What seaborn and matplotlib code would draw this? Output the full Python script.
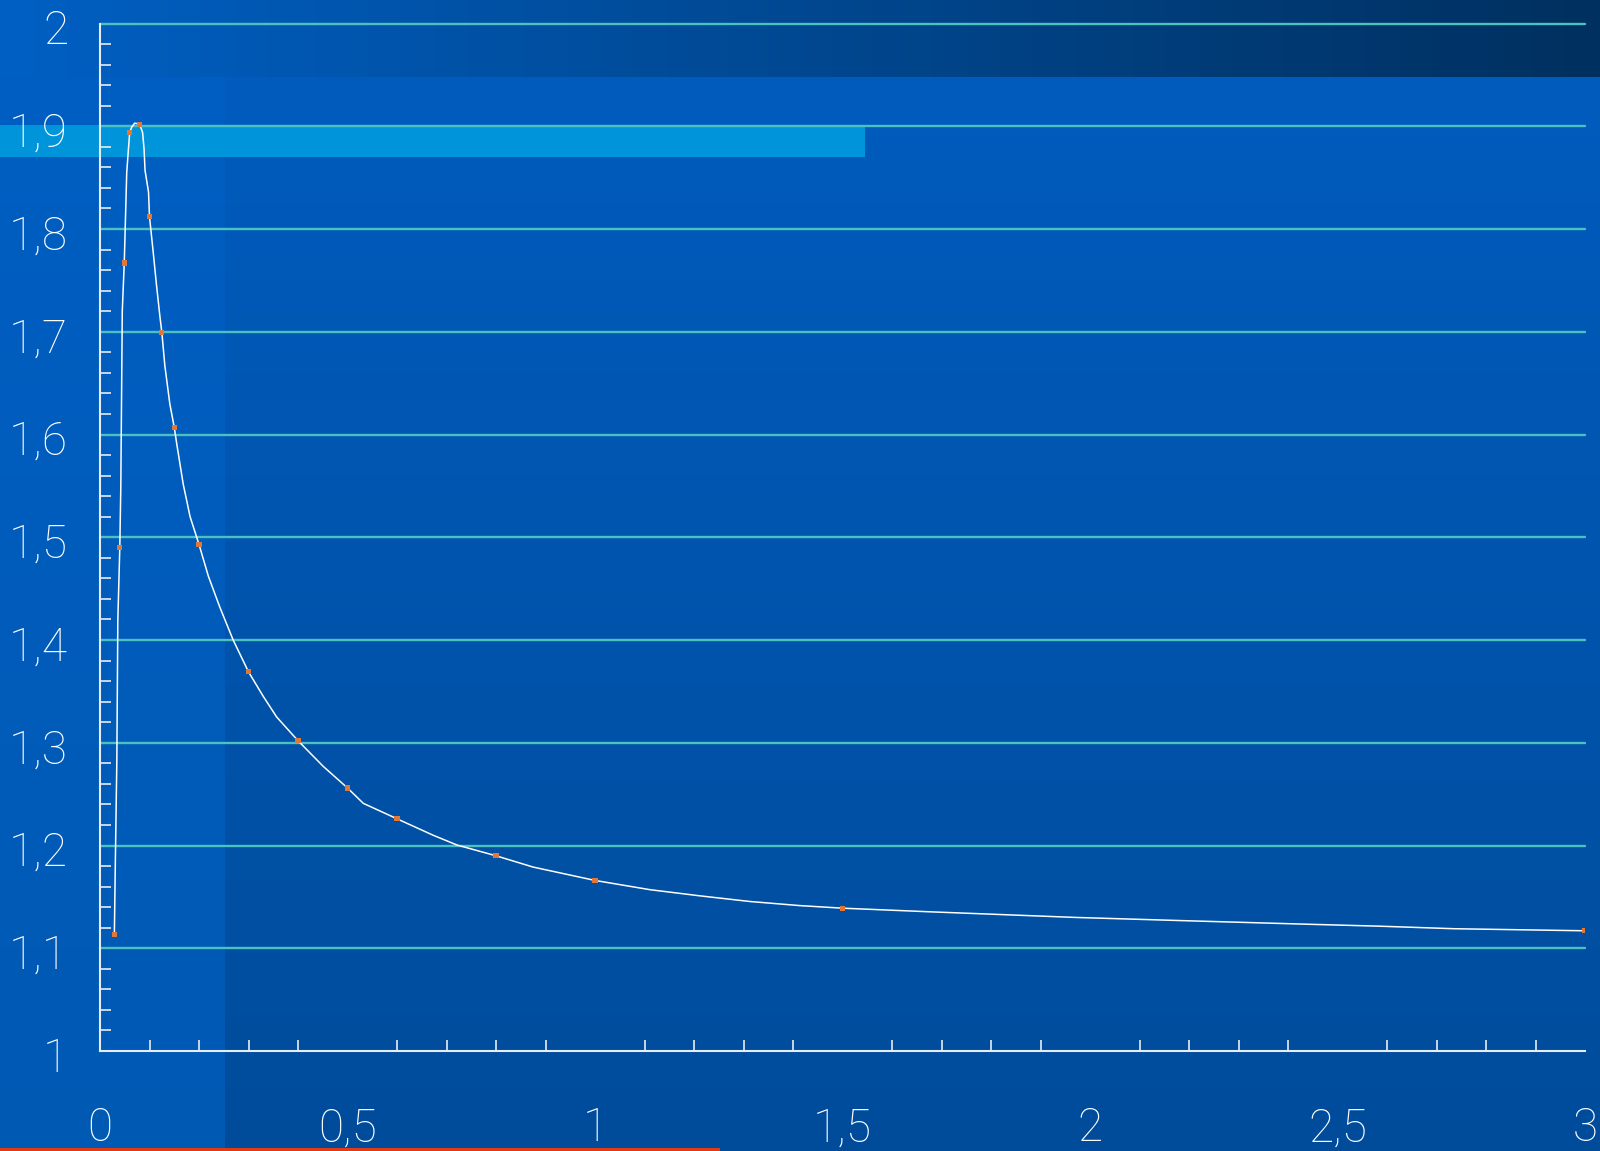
import numpy as np
import matplotlib
matplotlib.use("Agg")
import matplotlib.pyplot as plt
import matplotlib.transforms as mtransforms
from matplotlib.ticker import FixedLocator, MultipleLocator, FuncFormatter
import seaborn as sns

# Curve traced as a smooth line
x_line = [0.029, 0.031, 0.034, 0.036, 0.040, 0.042, 0.045, 0.049, 0.051, 0.054,
          0.057, 0.060, 0.064, 0.070, 0.080, 0.086, 0.089, 0.091, 0.098, 0.100,
          0.108, 0.114, 0.121, 0.125, 0.131, 0.141, 0.150, 0.155, 0.168, 0.182,
          0.200, 0.219, 0.242, 0.269, 0.300, 0.330, 0.357, 0.400, 0.451, 0.500,
          0.532, 0.600, 0.673, 0.721, 0.800, 0.875, 1.000, 1.111, 1.212, 1.313,
          1.414, 1.500, 1.675, 1.970, 2.178, 2.430, 2.583, 2.736, 2.933, 3.000]
y_line = [1.113, 1.184, 1.282, 1.419, 1.490, 1.548, 1.720, 1.767, 1.802, 1.855,
          1.875, 1.894, 1.899, 1.903, 1.902, 1.894, 1.878, 1.857, 1.836, 1.812,
          1.775, 1.746, 1.715, 1.699, 1.667, 1.630, 1.607, 1.591, 1.552, 1.520,
          1.493, 1.462, 1.432, 1.400, 1.369, 1.345, 1.325, 1.302, 1.277, 1.256,
          1.241, 1.226, 1.210, 1.2005, 1.190, 1.179, 1.166, 1.157, 1.151, 1.1455,
          1.1415, 1.139, 1.1355, 1.130, 1.127, 1.1235, 1.1215, 1.119, 1.1175, 1.117]

# Measured points
x_pts = [0.029, 0.040, 0.049, 0.060, 0.080, 0.100, 0.125, 0.150, 0.200,
         0.300, 0.400, 0.500, 0.600, 0.800, 1.000, 1.500, 3.000]
y_pts = [1.113, 1.490, 1.767, 1.894, 1.902, 1.812, 1.699, 1.607, 1.493,
         1.369, 1.302, 1.256, 1.226, 1.190, 1.166, 1.139, 1.117]

y_ticks = [1.0, 1.1, 1.2, 1.3, 1.4, 1.5, 1.6, 1.7, 1.8, 1.9, 2.0]
x_ticks = [0, 0.5, 1.0, 1.5, 2.0, 2.5, 3.0]

W, H = 1600, 1151
DPI = 100

sns.set_theme(style="white")
plt.rcParams["font.family"] = ["Roboto", "DejaVu Sans"]

fig = plt.figure(figsize=(W / DPI, H / DPI), dpi=DPI)


def hex_rgb(h):
    h = h.lstrip("#")
    return np.array([int(h[i:i + 2], 16) for i in (0, 2, 4)], dtype=float) / 255.0


# Slide-style background: blue gradients, a light band and a red rule
img = np.zeros((H, W, 3))
band_h = 77
strip_w = 225
t = np.linspace(0, 1, H)[:, None]
main_top, main_bot = hex_rgb("#005dc0"), hex_rgb("#004c9b")
img[:] = np.repeat((main_top * (1 - t) + main_bot * t)[:, None, :], W, axis=1)
strip_top, strip_bot = hex_rgb("#005fc4"), hex_rgb("#0059b3")
img[:, :strip_w] = np.repeat((strip_top * (1 - t) + strip_bot * t)[:, None, :], strip_w, axis=1)
s = np.linspace(0, 1, W)[None, :, None]
top_l, top_r = hex_rgb("#0060c4"), hex_rgb("#00305f")
img[:band_h] = np.repeat(top_l * (1 - s) + top_r * s, band_h, axis=0)
img[125:157, :865] = hex_rgb("#0094da")
img[1148:1151, :720] = hex_rgb("#e33a16")

bg = fig.add_axes([0, 0, 1, 1], zorder=0)
bg.imshow(img, extent=(0, W, H, 0), aspect="auto", interpolation="nearest")
bg.set_axis_off()

# Plot area
x0, x1 = 100, 1585
y_top, y_bot = 23.5, 1051
ax = fig.add_axes([x0 / W, 1 - y_bot / H, (x1 - x0) / W, (y_bot - y_top) / H], zorder=1)
ax.patch.set_alpha(0)

sns.lineplot(x=x_line, y=y_line, ax=ax, color="white", lw=1.1, sort=False,
             estimator=None, zorder=3)
sns.scatterplot(x=x_pts, y=y_pts, ax=ax, marker="s", s=14, color="#e0783a",
                edgecolor="none", zorder=4)

ax.set_xlim(0, 3)
ax.set_ylim(1, 2)
ax.set_xlabel("")
ax.set_ylabel("")

ax.yaxis.set_major_locator(FixedLocator(y_ticks))
ax.yaxis.set_minor_locator(MultipleLocator(0.02))
ax.xaxis.set_major_locator(FixedLocator(x_ticks))
ax.xaxis.set_minor_locator(MultipleLocator(0.1))

fmt = FuncFormatter(lambda v, p: f"{v:g}".replace(".", ","))
ax.xaxis.set_major_formatter(fmt)
ax.yaxis.set_major_formatter(fmt)

for side in ("top", "right"):
    ax.spines[side].set_visible(False)
for side in ("left", "bottom"):
    ax.spines[side].set_color("#e6edf5")
    ax.spines[side].set_linewidth(1.5)
    ax.spines[side].set_zorder(2.6)

axis_c = "#e6edf5"
ax.tick_params(axis="y", which="major", direction="in", length=9.4, width=1.4,
               color=axis_c, pad=23, labelsize=33, labelcolor="white")
ax.tick_params(axis="y", which="minor", direction="in", length=7.9, width=1.2,
               color=axis_c, left=True)
ax.tick_params(axis="x", which="major", direction="inout", length=19.4, width=1.2,
               color=axis_c, pad=30, labelsize=33, labelcolor="white")
ax.tick_params(axis="x", which="minor", direction="in", length=7.9, width=1.2,
               color=axis_c, bottom=True)

for lab in ax.get_xticklabels() + ax.get_yticklabels():
    lab.set_fontweight("light")

shift = mtransforms.ScaledTranslation(0, -3 / DPI, fig.dpi_scale_trans)
for lab in ax.get_yticklabels():
    lab.set_transform(lab.get_transform() + shift)

ax.yaxis.grid(True, which="major", color="#4cc2c0", lw=1.7)
ax.set_axisbelow("line")
for gl in ax.get_ygridlines():
    gl.set_clip_on(False)
ax.get_ygridlines()[0].set_visible(False)

fig.savefig("out.png", dpi=DPI)
